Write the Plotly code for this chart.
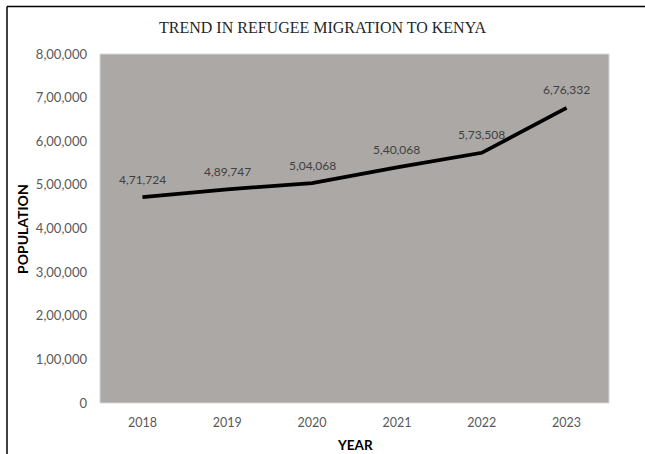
import plotly.graph_objects as go

years = ["2018", "2019", "2020", "2021", "2022", "2023"]
population = [471724, 489747, 504068, 540068, 573508, 676332]
tick_vals = [0, 100000, 200000, 300000, 400000, 500000, 600000, 700000, 800000]
tick_text = ["0", "1,00,000", "2,00,000", "3,00,000", "4,00,000", "5,00,000",
             "6,00,000", "7,00,000", "8,00,000"]


def indian(n):
    s = str(n)
    last3 = s[-3:]
    rest = s[:-3]
    parts = []
    while len(rest) > 2:
        parts.insert(0, rest[-2:])
        rest = rest[:-2]
    if rest:
        parts.insert(0, rest)
    return ",".join(parts + [last3]) if parts else last3


labels = [indian(v) for v in population]

W, H = 645, 454
L, R, T, B = 100, 609, 54, 403
SANS = "Lato, Open Sans, sans-serif"

fig = go.Figure()
fig.add_trace(go.Scatter(
    x=years, y=population, mode="lines",
    line=dict(color="black", width=3.75),
    hoverinfo="skip"
))

for i, (val, lab) in enumerate(zip(population, labels)):
    fig.add_annotation(x=i, y=val, xref="x", yref="y", text=lab, showarrow=False,
                       yshift=18, xanchor="center", yanchor="middle",
                       font=dict(family=SANS, size=12, color="#404040"))


def px_x(p):
    return (p - L) / (R - L)


def px_y(p):
    return (B - p) / (B - T)


# axis titles
fig.add_annotation(xref="paper", yref="paper", x=px_x((L + R) / 2), y=px_y(445),
                   text="<b>YEAR</b>", showarrow=False, xanchor="center", yanchor="middle",
                   font=dict(family=SANS, size=13.5, color="black"))
fig.add_annotation(xref="paper", yref="paper", x=px_x(22), y=px_y(229),
                   text="<b>POPULATION</b>", showarrow=False, textangle=-90,
                   xanchor="center", yanchor="middle",
                   font=dict(family=SANS, size=14, color="black"))

fig.update_layout(
    width=W, height=H,
    margin=dict(l=L, r=W - R, t=T, b=H - B),
    paper_bgcolor="white",
    plot_bgcolor="#ACA8A6",
    showlegend=False,
    hovermode=False,
    title=dict(text="TREND IN REFUGEE MIGRATION TO KENYA",
               font=dict(family="Liberation Serif, serif", size=16, color="#262626"),
               x=0.5, xanchor="center", y=1 - 27 / H, yanchor="middle"),
    xaxis=dict(type="category", showgrid=False, zeroline=False, showline=False,
               ticks="", ticklabelstandoff=10, automargin=False,
               tickfont=dict(family=SANS, size=12.5, color="#595959"),
               range=[-0.5, 5.5]),
    yaxis=dict(range=[0, 800000], tickvals=tick_vals, ticktext=tick_text,
               showgrid=False, zeroline=False, showline=False, ticks="",
               ticklabelstandoff=12, automargin=False,
               tickfont=dict(family=SANS, size=13, color="#595959")),
    shapes=[
        dict(type="line", xref="paper", yref="paper",
             x0=px_x(7), x1=px_x(W + 5), y0=px_y(6.5), y1=px_y(6.5),
             line=dict(color="black", width=1.5)),
        dict(type="line", xref="paper", yref="paper",
             x0=px_x(7), x1=px_x(7), y0=px_y(6.5), y1=px_y(H + 5),
             line=dict(color="black", width=1.5)),
        dict(type="rect", xref="paper", yref="paper", x0=0, x1=1, y0=0, y1=1,
             line=dict(color="#D9D9D9", width=1), layer="below"),
    ],
)

fig.write_html("out.html", config={"displayModeBar": False},
               post_script="document.body.style.margin='0';")
